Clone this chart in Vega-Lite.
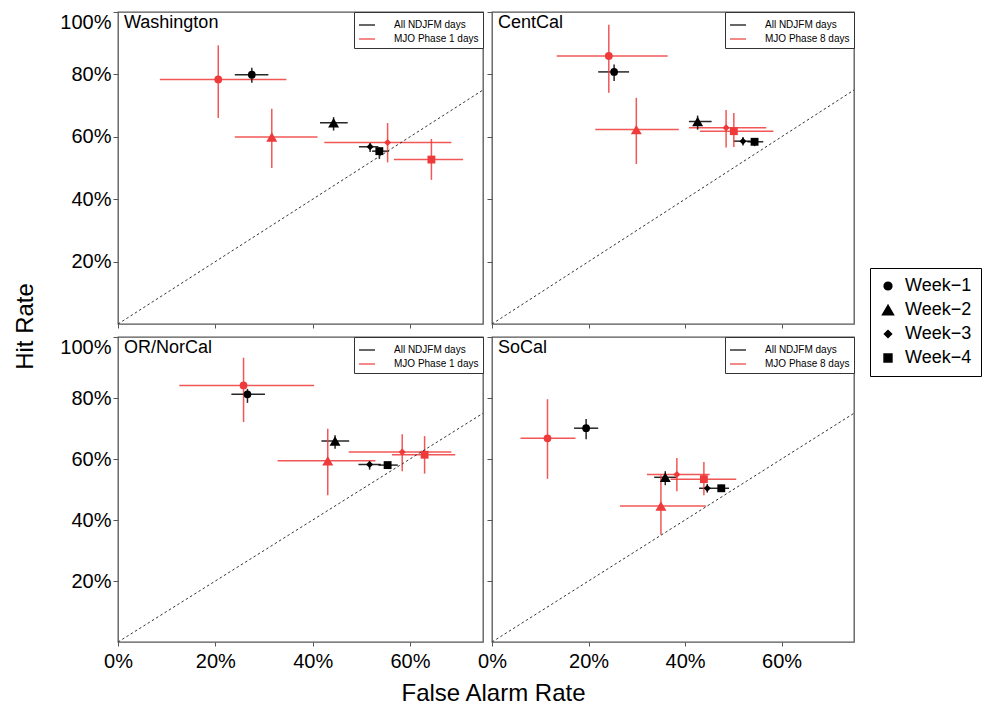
{
  "$schema": "https://vega.github.io/schema/vega-lite/v6.json",
  "padding": {"left": 13, "top": 10, "right": 5, "bottom": 3},
  "config": {
    "font": "Liberation Sans",
    "view": {"stroke": "#555", "strokeWidth": 1.3},
    "axis": {"grid": false, "domain": false, "tickColor": "#555", "tickWidth": 1, "labelFontSize": 20, "labelColor": "black", "labelFont": "Liberation Sans", "titleFont": "Liberation Sans", "titleFontSize": 24, "titleFontWeight": "normal", "titleColor": "black"},
    "axisY": {"tickSize": 5, "labelPadding": 2, "labelFlush": true},
    "axisX": {"tickSize": 4, "labelPadding": 5, "labelFlush": false},
    "title": {"anchor": "start", "frame": "group", "offset": -20, "baseline": "alphabetic", "dx": 6, "fontSize": 18, "fontWeight": "normal", "color": "black", "font": "Liberation Sans"},
    "legend": {"labelFont": "Liberation Sans", "labelColor": "black"}
  },
  "datasets": {
    "d": [
      {"region": "Washington", "grp": "All NDJFM days", "week": "Week−1", "far": 0.275, "far_lo": 0.240, "far_hi": 0.309, "hr": 0.799, "hr_lo": 0.773, "hr_hi": 0.821},
      {"region": "Washington", "grp": "All NDJFM days", "week": "Week−2", "far": 0.443, "far_lo": 0.415, "far_hi": 0.472, "hr": 0.645, "hr_lo": 0.620, "hr_hi": 0.663},
      {"region": "Washington", "grp": "All NDJFM days", "week": "Week−3", "far": 0.518, "far_lo": 0.495, "far_hi": 0.535, "hr": 0.568, "hr_lo": 0.551, "hr_hi": 0.580},
      {"region": "Washington", "grp": "All NDJFM days", "week": "Week−4", "far": 0.537, "far_lo": 0.522, "far_hi": 0.557, "hr": 0.554, "hr_lo": 0.529, "hr_hi": 0.566},
      {"region": "Washington", "grp": "MJO Phase 1 days", "week": "Week−1", "far": 0.206, "far_lo": 0.086, "far_hi": 0.346, "hr": 0.784, "hr_lo": 0.660, "hr_hi": 0.893},
      {"region": "Washington", "grp": "MJO Phase 1 days", "week": "Week−2", "far": 0.316, "far_lo": 0.240, "far_hi": 0.410, "hr": 0.599, "hr_lo": 0.500, "hr_hi": 0.690},
      {"region": "Washington", "grp": "MJO Phase 1 days", "week": "Week−3", "far": 0.554, "far_lo": 0.424, "far_hi": 0.685, "hr": 0.582, "hr_lo": 0.518, "hr_hi": 0.644},
      {"region": "Washington", "grp": "MJO Phase 1 days", "week": "Week−4", "far": 0.644, "far_lo": 0.567, "far_hi": 0.709, "hr": 0.527, "hr_lo": 0.462, "hr_hi": 0.593},
      {"region": "CentCal", "grp": "All NDJFM days", "week": "Week−1", "far": 0.253, "far_lo": 0.220, "far_hi": 0.284, "hr": 0.808, "hr_lo": 0.779, "hr_hi": 0.832},
      {"region": "CentCal", "grp": "All NDJFM days", "week": "Week−2", "far": 0.426, "far_lo": 0.408, "far_hi": 0.455, "hr": 0.649, "hr_lo": 0.623, "hr_hi": 0.668},
      {"region": "CentCal", "grp": "All NDJFM days", "week": "Week−3", "far": 0.520, "far_lo": 0.501, "far_hi": 0.536, "hr": 0.586, "hr_lo": 0.572, "hr_hi": 0.599},
      {"region": "CentCal", "grp": "All NDJFM days", "week": "Week−4", "far": 0.544, "far_lo": 0.529, "far_hi": 0.562, "hr": 0.584, "hr_lo": 0.570, "hr_hi": 0.596},
      {"region": "CentCal", "grp": "MJO Phase 8 days", "week": "Week−1", "far": 0.242, "far_lo": 0.134, "far_hi": 0.364, "hr": 0.859, "hr_lo": 0.741, "hr_hi": 0.959},
      {"region": "CentCal", "grp": "MJO Phase 8 days", "week": "Week−2", "far": 0.299, "far_lo": 0.214, "far_hi": 0.387, "hr": 0.623, "hr_lo": 0.513, "hr_hi": 0.725},
      {"region": "CentCal", "grp": "MJO Phase 8 days", "week": "Week−3", "far": 0.485, "far_lo": 0.408, "far_hi": 0.568, "hr": 0.629, "hr_lo": 0.566, "hr_hi": 0.686},
      {"region": "CentCal", "grp": "MJO Phase 8 days", "week": "Week−4", "far": 0.501, "far_lo": 0.431, "far_hi": 0.583, "hr": 0.618, "hr_lo": 0.567, "hr_hi": 0.676},
      {"region": "OR/NorCal", "grp": "All NDJFM days", "week": "Week−1", "far": 0.266, "far_lo": 0.233, "far_hi": 0.302, "hr": 0.812, "hr_lo": 0.784, "hr_hi": 0.830},
      {"region": "OR/NorCal", "grp": "All NDJFM days", "week": "Week−2", "far": 0.446, "far_lo": 0.418, "far_hi": 0.475, "hr": 0.659, "hr_lo": 0.634, "hr_hi": 0.678},
      {"region": "OR/NorCal", "grp": "All NDJFM days", "week": "Week−3", "far": 0.517, "far_lo": 0.494, "far_hi": 0.540, "hr": 0.582, "hr_lo": 0.565, "hr_hi": 0.593},
      {"region": "OR/NorCal", "grp": "All NDJFM days", "week": "Week−4", "far": 0.554, "far_lo": 0.535, "far_hi": 0.575, "hr": 0.580, "hr_lo": 0.570, "hr_hi": 0.590},
      {"region": "OR/NorCal", "grp": "MJO Phase 1 days", "week": "Week−1", "far": 0.258, "far_lo": 0.126, "far_hi": 0.403, "hr": 0.841, "hr_lo": 0.721, "hr_hi": 0.932},
      {"region": "OR/NorCal", "grp": "MJO Phase 1 days", "week": "Week−2", "far": 0.431, "far_lo": 0.328, "far_hi": 0.529, "hr": 0.594, "hr_lo": 0.481, "hr_hi": 0.699},
      {"region": "OR/NorCal", "grp": "MJO Phase 1 days", "week": "Week−3", "far": 0.584, "far_lo": 0.474, "far_hi": 0.685, "hr": 0.623, "hr_lo": 0.560, "hr_hi": 0.681},
      {"region": "OR/NorCal", "grp": "MJO Phase 1 days", "week": "Week−4", "far": 0.630, "far_lo": 0.563, "far_hi": 0.693, "hr": 0.614, "hr_lo": 0.552, "hr_hi": 0.675},
      {"region": "SoCal", "grp": "All NDJFM days", "week": "Week−1", "far": 0.195, "far_lo": 0.170, "far_hi": 0.220, "hr": 0.701, "hr_lo": 0.665, "hr_hi": 0.731},
      {"region": "SoCal", "grp": "All NDJFM days", "week": "Week−2", "far": 0.359, "far_lo": 0.336, "far_hi": 0.381, "hr": 0.540, "hr_lo": 0.514, "hr_hi": 0.560},
      {"region": "SoCal", "grp": "All NDJFM days", "week": "Week−3", "far": 0.446, "far_lo": 0.429, "far_hi": 0.460, "hr": 0.504, "hr_lo": 0.490, "hr_hi": 0.518},
      {"region": "SoCal", "grp": "All NDJFM days", "week": "Week−4", "far": 0.475, "far_lo": 0.460, "far_hi": 0.491, "hr": 0.504, "hr_lo": 0.492, "hr_hi": 0.516},
      {"region": "SoCal", "grp": "MJO Phase 8 days", "week": "Week−1", "far": 0.115, "far_lo": 0.059, "far_hi": 0.173, "hr": 0.668, "hr_lo": 0.535, "hr_hi": 0.796},
      {"region": "SoCal", "grp": "MJO Phase 8 days", "week": "Week−2", "far": 0.350, "far_lo": 0.265, "far_hi": 0.443, "hr": 0.446, "hr_lo": 0.352, "hr_hi": 0.547},
      {"region": "SoCal", "grp": "MJO Phase 8 days", "week": "Week−3", "far": 0.383, "far_lo": 0.321, "far_hi": 0.451, "hr": 0.549, "hr_lo": 0.494, "hr_hi": 0.603},
      {"region": "SoCal", "grp": "MJO Phase 8 days", "week": "Week−4", "far": 0.439, "far_lo": 0.370, "far_hi": 0.506, "hr": 0.534, "hr_lo": 0.481, "hr_hi": 0.590}
    ]
  },
  "columns": 2,
  "bounds": "flush",
  "spacing": {"row": 13, "column": 9},
  "resolve": {"scale": {"color": "independent", "shape": "shared", "size": "shared"}, "legend": {"color": "independent", "shape": "shared", "size": "shared"}},
  "concat": [
    {
      "width": 365, "height": 312,
      "title": {"text": "Washington"},
      "layer": [
        {"data": {"name": "d"}, "transform": [{"filter": "datum.region === 'Washington'"}],
         "mark": {"type": "rule", "strokeWidth": 1.5, "opacity": 0.85},
         "encoding": {
           "x": {"field": "far_lo", "type": "quantitative", "scale": {"domain": [0, 0.75], "nice": false, "zero": false}, "axis": {"values": [0, 0.2, 0.4, 0.6], "format": ".0%", "labels": false, "title": null}},
           "x2": {"field": "far_hi"},
           "y": {"field": "hr", "type": "quantitative", "scale": {"domain": [0, 1], "nice": false}, "axis": {"values": [0.2, 0.4, 0.6, 0.8, 1], "format": ".0%", "title": "Hit Rate", "titleY": 314, "titlePadding": 22}},
           "color": {"field": "grp", "type": "nominal", "scale": {"range": ["#000000", "#ee3a3a"]}, "legend": {"orient": "top-right", "offset": 0, "padding": 4, "strokeColor": "#333", "fillColor": "white", "labelFontSize": 10, "labelOffset": 18, "rowPadding": -4.4, "symbolType": "stroke", "symbolSize": 256, "symbolStrokeWidth": 1.4, "title": null}}
         }},
        {"data": {"name": "d"}, "transform": [{"filter": "datum.region === 'Washington'"}],
         "mark": {"type": "rule", "strokeWidth": 1.5, "opacity": 0.85},
         "encoding": {
           "x": {"field": "far", "type": "quantitative"},
           "y": {"field": "hr_lo", "type": "quantitative"},
           "y2": {"field": "hr_hi"},
           "color": {"field": "grp", "type": "nominal"}
         }},
        {"data": {"name": "d"}, "transform": [{"filter": "datum.region === 'Washington'"}],
         "mark": {"type": "point", "filled": true, "opacity": 1, "strokeWidth": 0},
         "encoding": {
           "x": {"field": "far", "type": "quantitative"},
           "y": {"field": "hr", "type": "quantitative"},
           "color": {"field": "grp", "type": "nominal"},
           "size": {"field": "week", "type": "ordinal", "scale": {"type": "ordinal", "domain": ["Week−1", "Week−2", "Week−3", "Week−4"], "range": [60, 120, 50, 62]}, "legend": {"orient": "none", "legendX": 752, "legendY": 256, "title": null, "labelFontSize": 18, "labelOffset": 8, "padding": 9, "rowPadding": 6, "strokeColor": "black", "fillColor": "white", "symbolFillColor": "black", "symbolStrokeColor": "black"}},
           "shape": {"field": "week", "type": "nominal", "scale": {"domain": ["Week−1", "Week−2", "Week−3", "Week−4"], "range": ["circle", "triangle-up", "diamond", "square"]}, "legend": {"orient": "none", "legendX": 752, "legendY": 256, "title": null, "labelFontSize": 18, "labelOffset": 8, "padding": 9, "rowPadding": 6, "strokeColor": "black", "fillColor": "white", "symbolFillColor": "black", "symbolStrokeColor": "black"}}
         }},
        {"data": {"values": [{}]},
         "mark": {"type": "rule", "strokeDash": [2.5, 2.5], "color": "#333", "strokeWidth": 1},
         "encoding": {"x": {"datum": 0, "type": "quantitative"}, "y": {"datum": 0, "type": "quantitative"}, "x2": {"datum": 0.75}, "y2": {"datum": 0.75}}}
      ]
    },
    {
      "width": 362, "height": 312,
      "title": {"text": "CentCal"},
      "layer": [
        {"data": {"name": "d"}, "transform": [{"filter": "datum.region === 'CentCal'"}],
         "mark": {"type": "rule", "strokeWidth": 1.5, "opacity": 0.85},
         "encoding": {
           "x": {"field": "far_lo", "type": "quantitative", "scale": {"domain": [0, 0.75], "nice": false, "zero": false}, "axis": {"values": [0, 0.2, 0.4, 0.6], "format": ".0%", "labels": false, "title": null}},
           "x2": {"field": "far_hi"},
           "y": {"field": "hr", "type": "quantitative", "scale": {"domain": [0, 1], "nice": false}, "axis": {"values": [0.2, 0.4, 0.6, 0.8, 1], "format": ".0%", "labels": false, "title": null}},
           "color": {"field": "grp", "type": "nominal", "scale": {"range": ["#000000", "#ee3a3a"]}, "legend": {"orient": "top-right", "offset": 0, "padding": 4, "strokeColor": "#333", "fillColor": "white", "labelFontSize": 10, "labelOffset": 18, "rowPadding": -4.4, "symbolType": "stroke", "symbolSize": 256, "symbolStrokeWidth": 1.4, "title": null}}
         }},
        {"data": {"name": "d"}, "transform": [{"filter": "datum.region === 'CentCal'"}],
         "mark": {"type": "rule", "strokeWidth": 1.5, "opacity": 0.85},
         "encoding": {
           "x": {"field": "far", "type": "quantitative"},
           "y": {"field": "hr_lo", "type": "quantitative"},
           "y2": {"field": "hr_hi"},
           "color": {"field": "grp", "type": "nominal"}
         }},
        {"data": {"name": "d"}, "transform": [{"filter": "datum.region === 'CentCal'"}],
         "mark": {"type": "point", "filled": true, "opacity": 1, "strokeWidth": 0},
         "encoding": {
           "x": {"field": "far", "type": "quantitative"},
           "y": {"field": "hr", "type": "quantitative"},
           "color": {"field": "grp", "type": "nominal"},
           "size": {"field": "week", "type": "ordinal", "scale": {"type": "ordinal", "domain": ["Week−1", "Week−2", "Week−3", "Week−4"], "range": [60, 120, 50, 62]}, "legend": {"orient": "none", "legendX": 752, "legendY": 256, "title": null, "labelFontSize": 18, "labelOffset": 8, "padding": 9, "rowPadding": 6, "strokeColor": "black", "fillColor": "white", "symbolFillColor": "black", "symbolStrokeColor": "black"}},
           "shape": {"field": "week", "type": "nominal", "scale": {"domain": ["Week−1", "Week−2", "Week−3", "Week−4"], "range": ["circle", "triangle-up", "diamond", "square"]}, "legend": {"orient": "none", "legendX": 752, "legendY": 256, "title": null, "labelFontSize": 18, "labelOffset": 8, "padding": 9, "rowPadding": 6, "strokeColor": "black", "fillColor": "white", "symbolFillColor": "black", "symbolStrokeColor": "black"}}
         }},
        {"data": {"values": [{}]},
         "mark": {"type": "rule", "strokeDash": [2.5, 2.5], "color": "#333", "strokeWidth": 1},
         "encoding": {"x": {"datum": 0, "type": "quantitative"}, "y": {"datum": 0, "type": "quantitative"}, "x2": {"datum": 0.75}, "y2": {"datum": 0.75}}}
      ]
    },
    {
      "width": 365, "height": 305,
      "title": {"text": "OR/NorCal"},
      "layer": [
        {"data": {"name": "d"}, "transform": [{"filter": "datum.region === 'OR/NorCal'"}],
         "mark": {"type": "rule", "strokeWidth": 1.5, "opacity": 0.85},
         "encoding": {
           "x": {"field": "far_lo", "type": "quantitative", "scale": {"domain": [0, 0.75], "nice": false, "zero": false}, "axis": {"values": [0, 0.2, 0.4, 0.6], "format": ".0%", "title": "False Alarm Rate", "titleX": 375, "titlePadding": 10}},
           "x2": {"field": "far_hi"},
           "y": {"field": "hr", "type": "quantitative", "scale": {"domain": [0, 1], "nice": false}, "axis": {"values": [0.2, 0.4, 0.6, 0.8, 1], "format": ".0%", "title": null}},
           "color": {"field": "grp", "type": "nominal", "scale": {"range": ["#000000", "#ee3a3a"]}, "legend": {"orient": "top-right", "offset": 0, "padding": 4, "strokeColor": "#333", "fillColor": "white", "labelFontSize": 10, "labelOffset": 18, "rowPadding": -4.4, "symbolType": "stroke", "symbolSize": 256, "symbolStrokeWidth": 1.4, "title": null}}
         }},
        {"data": {"name": "d"}, "transform": [{"filter": "datum.region === 'OR/NorCal'"}],
         "mark": {"type": "rule", "strokeWidth": 1.5, "opacity": 0.85},
         "encoding": {
           "x": {"field": "far", "type": "quantitative"},
           "y": {"field": "hr_lo", "type": "quantitative"},
           "y2": {"field": "hr_hi"},
           "color": {"field": "grp", "type": "nominal"}
         }},
        {"data": {"name": "d"}, "transform": [{"filter": "datum.region === 'OR/NorCal'"}],
         "mark": {"type": "point", "filled": true, "opacity": 1, "strokeWidth": 0},
         "encoding": {
           "x": {"field": "far", "type": "quantitative"},
           "y": {"field": "hr", "type": "quantitative"},
           "color": {"field": "grp", "type": "nominal"},
           "size": {"field": "week", "type": "ordinal", "scale": {"type": "ordinal", "domain": ["Week−1", "Week−2", "Week−3", "Week−4"], "range": [60, 120, 50, 62]}, "legend": {"orient": "none", "legendX": 752, "legendY": 256, "title": null, "labelFontSize": 18, "labelOffset": 8, "padding": 9, "rowPadding": 6, "strokeColor": "black", "fillColor": "white", "symbolFillColor": "black", "symbolStrokeColor": "black"}},
           "shape": {"field": "week", "type": "nominal", "scale": {"domain": ["Week−1", "Week−2", "Week−3", "Week−4"], "range": ["circle", "triangle-up", "diamond", "square"]}, "legend": {"orient": "none", "legendX": 752, "legendY": 256, "title": null, "labelFontSize": 18, "labelOffset": 8, "padding": 9, "rowPadding": 6, "strokeColor": "black", "fillColor": "white", "symbolFillColor": "black", "symbolStrokeColor": "black"}}
         }},
        {"data": {"values": [{}]},
         "mark": {"type": "rule", "strokeDash": [2.5, 2.5], "color": "#333", "strokeWidth": 1},
         "encoding": {"x": {"datum": 0, "type": "quantitative"}, "y": {"datum": 0, "type": "quantitative"}, "x2": {"datum": 0.75}, "y2": {"datum": 0.75}}}
      ]
    },
    {
      "width": 362, "height": 305,
      "title": {"text": "SoCal"},
      "layer": [
        {"data": {"name": "d"}, "transform": [{"filter": "datum.region === 'SoCal'"}],
         "mark": {"type": "rule", "strokeWidth": 1.5, "opacity": 0.85},
         "encoding": {
           "x": {"field": "far_lo", "type": "quantitative", "scale": {"domain": [0, 0.75], "nice": false, "zero": false}, "axis": {"values": [0, 0.2, 0.4, 0.6], "format": ".0%", "title": null}},
           "x2": {"field": "far_hi"},
           "y": {"field": "hr", "type": "quantitative", "scale": {"domain": [0, 1], "nice": false}, "axis": {"values": [0.2, 0.4, 0.6, 0.8, 1], "format": ".0%", "labels": false, "title": null}},
           "color": {"field": "grp", "type": "nominal", "scale": {"range": ["#000000", "#ee3a3a"]}, "legend": {"orient": "top-right", "offset": 0, "padding": 4, "strokeColor": "#333", "fillColor": "white", "labelFontSize": 10, "labelOffset": 18, "rowPadding": -4.4, "symbolType": "stroke", "symbolSize": 256, "symbolStrokeWidth": 1.4, "title": null}}
         }},
        {"data": {"name": "d"}, "transform": [{"filter": "datum.region === 'SoCal'"}],
         "mark": {"type": "rule", "strokeWidth": 1.5, "opacity": 0.85},
         "encoding": {
           "x": {"field": "far", "type": "quantitative"},
           "y": {"field": "hr_lo", "type": "quantitative"},
           "y2": {"field": "hr_hi"},
           "color": {"field": "grp", "type": "nominal"}
         }},
        {"data": {"name": "d"}, "transform": [{"filter": "datum.region === 'SoCal'"}],
         "mark": {"type": "point", "filled": true, "opacity": 1, "strokeWidth": 0},
         "encoding": {
           "x": {"field": "far", "type": "quantitative"},
           "y": {"field": "hr", "type": "quantitative"},
           "color": {"field": "grp", "type": "nominal"},
           "size": {"field": "week", "type": "ordinal", "scale": {"type": "ordinal", "domain": ["Week−1", "Week−2", "Week−3", "Week−4"], "range": [60, 120, 50, 62]}, "legend": {"orient": "none", "legendX": 752, "legendY": 256, "title": null, "labelFontSize": 18, "labelOffset": 8, "padding": 9, "rowPadding": 6, "strokeColor": "black", "fillColor": "white", "symbolFillColor": "black", "symbolStrokeColor": "black"}},
           "shape": {"field": "week", "type": "nominal", "scale": {"domain": ["Week−1", "Week−2", "Week−3", "Week−4"], "range": ["circle", "triangle-up", "diamond", "square"]}, "legend": {"orient": "none", "legendX": 752, "legendY": 256, "title": null, "labelFontSize": 18, "labelOffset": 8, "padding": 9, "rowPadding": 6, "strokeColor": "black", "fillColor": "white", "symbolFillColor": "black", "symbolStrokeColor": "black"}}
         }},
        {"data": {"values": [{}]},
         "mark": {"type": "rule", "strokeDash": [2.5, 2.5], "color": "#333", "strokeWidth": 1},
         "encoding": {"x": {"datum": 0, "type": "quantitative"}, "y": {"datum": 0, "type": "quantitative"}, "x2": {"datum": 0.75}, "y2": {"datum": 0.75}}}
      ]
    }
  ]
}
